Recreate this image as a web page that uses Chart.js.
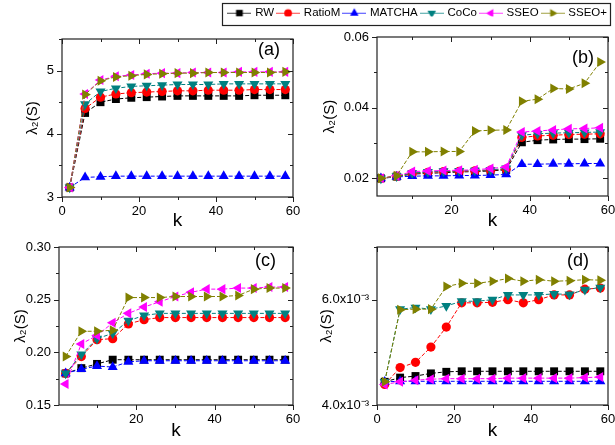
<!DOCTYPE html>
<html>
<head>
<meta charset="utf-8">
<script src="https://cdn.jsdelivr.net/npm/chart.js@4/dist/chart.umd.min.js"></script>
<style>
  body { margin: 0; background: #fff; width: 615px; height: 445px; position: relative; overflow: hidden; }
  canvas { position: absolute; }
</style>
</head>
<body>
<canvas id="legend"></canvas>
<canvas id="pa"></canvas>
<canvas id="pb"></canvas>
<canvas id="pc"></canvas>
<canvas id="pd"></canvas>
<script>
// shared x positions (k) and series names
const kValues = [2, 6, 10, 14, 18, 22, 26, 30, 34, 38, 42, 46, 50, 54, 58];
const seriesNames = ['RW', 'RatioM', 'MATCHA', 'CoCo', 'SSEO', 'SSEO+'];

// (a)
const aRW     = [3.15, 4.33, 4.50, 4.55, 4.57, 4.58, 4.59, 4.60, 4.60, 4.60, 4.60, 4.60, 4.61, 4.61, 4.61];
const aRatioM = [3.15, 4.40, 4.58, 4.63, 4.65, 4.66, 4.67, 4.68, 4.68, 4.69, 4.69, 4.69, 4.70, 4.70, 4.70];
const aMATCHA = [3.15, 3.31, 3.32, 3.33, 3.33, 3.33, 3.33, 3.33, 3.33, 3.33, 3.33, 3.33, 3.33, 3.33, 3.33];
const aCoCo   = [3.15, 4.47, 4.67, 4.72, 4.75, 4.76, 4.77, 4.78, 4.78, 4.78, 4.79, 4.79, 4.79, 4.79, 4.79];
const aSSEO   = [3.15, 4.63, 4.85, 4.91, 4.93, 4.95, 4.96, 4.96, 4.97, 4.97, 4.97, 4.98, 4.98, 4.98, 4.98];
const aSSEOp  = [3.15, 4.62, 4.84, 4.90, 4.92, 4.94, 4.95, 4.96, 4.96, 4.97, 4.97, 4.97, 4.97, 4.97, 4.98];

// (b)
const bRW     = [0.0200, 0.0205, 0.0212, 0.0214, 0.0216, 0.0218, 0.0219, 0.0221, 0.0224, 0.0302, 0.0308, 0.0310, 0.0311, 0.0311, 0.0312];
const bRatioM = [0.0200, 0.0206, 0.0214, 0.0217, 0.0219, 0.0220, 0.0221, 0.0223, 0.0226, 0.0316, 0.0320, 0.0322, 0.0324, 0.0325, 0.0326];
const bMATCHA = [0.0200, 0.0204, 0.0206, 0.0207, 0.0207, 0.0208, 0.0208, 0.0209, 0.0211, 0.0240, 0.0240, 0.0241, 0.0241, 0.0242, 0.0242];
const bCoCo   = [0.0200, 0.0206, 0.0215, 0.0218, 0.0220, 0.0221, 0.0222, 0.0224, 0.0228, 0.0322, 0.0326, 0.0328, 0.0329, 0.0330, 0.0331];
const bSSEO   = [0.0200, 0.0207, 0.0219, 0.0221, 0.0222, 0.0223, 0.0224, 0.0228, 0.0232, 0.0331, 0.0334, 0.0337, 0.0340, 0.0341, 0.0343];
const bSSEOp  = [0.0200, 0.0207, 0.0275, 0.0275, 0.0276, 0.0276, 0.0334, 0.0336, 0.0337, 0.0418, 0.0424, 0.0454, 0.0453, 0.0469, 0.0529];

// (c)
const cRW     = [0.180, 0.185, 0.189, 0.193, 0.193, 0.193, 0.193, 0.193, 0.193, 0.193, 0.193, 0.193, 0.193, 0.193, 0.193];
const cRatioM = [0.180, 0.196, 0.212, 0.213, 0.227, 0.231, 0.233, 0.233, 0.233, 0.233, 0.233, 0.233, 0.233, 0.233, 0.233];
const cMATCHA = [0.180, 0.184, 0.187, 0.186, 0.191, 0.192, 0.192, 0.192, 0.192, 0.192, 0.192, 0.192, 0.192, 0.192, 0.192];
const cCoCo   = [0.180, 0.198, 0.213, 0.218, 0.230, 0.235, 0.237, 0.237, 0.237, 0.237, 0.237, 0.237, 0.237, 0.237, 0.237];
const cSSEO   = [0.170, 0.208, 0.216, 0.228, 0.237, 0.243, 0.248, 0.253, 0.257, 0.260, 0.260, 0.261, 0.261, 0.262, 0.262];
const cSSEOp  = [0.196, 0.220, 0.220, 0.221, 0.252, 0.252, 0.252, 0.253, 0.253, 0.253, 0.253, 0.254, 0.260, 0.261, 0.261];

// (d)
const dRW     = [0.00444, 0.00452, 0.00455, 0.00460, 0.00463, 0.00464, 0.00464, 0.00464, 0.00464, 0.00464, 0.00464, 0.00464, 0.00464, 0.00464, 0.00464];
const dRatioM = [0.00439, 0.00471, 0.00481, 0.00510, 0.00548, 0.00594, 0.00594, 0.00595, 0.00600, 0.00594, 0.00600, 0.00609, 0.00609, 0.00620, 0.00622];
const dMATCHA = [0.00444, 0.00445, 0.00445, 0.00445, 0.00445, 0.00445, 0.00445, 0.00445, 0.00445, 0.00445, 0.00445, 0.00445, 0.00445, 0.00445, 0.00445];
const dCoCo   = [0.00444, 0.00582, 0.00585, 0.00582, 0.00588, 0.00597, 0.00597, 0.00600, 0.00609, 0.00609, 0.00609, 0.00611, 0.00610, 0.00619, 0.00623];
const dSSEO   = [0.00439, 0.00444, 0.00447, 0.00449, 0.00450, 0.00450, 0.00450, 0.00450, 0.00451, 0.00451, 0.00451, 0.00451, 0.00451, 0.00452, 0.00453];
const dSSEOp  = [0.00444, 0.00581, 0.00582, 0.00582, 0.00625, 0.00631, 0.00631, 0.00635, 0.00640, 0.00635, 0.00638, 0.00635, 0.00636, 0.00638, 0.00637];

// axis ticks
const xMajor = [0, 20, 40, 60];
const xMinor = [10, 30, 50];
const aYMajor = [3, 4, 5],          aYMinor = [3.5, 4.5, 5.5],        aYLabels = ['3', '4', '5'];
const bYMajor = [0.02, 0.04, 0.06], bYMinor = [0.03, 0.05],           bYLabels = ['0.02', '0.04', '0.06'];
const cYMajor = [0.15, 0.20, 0.25, 0.30], cYMinor = [0.175, 0.225, 0.275], cYLabels = ['0.15', '0.20', '0.25', '0.30'];
const dYMajor = [0.004, 0.006],     dYMinor = [0.005, 0.007],         dYLabels = ['4.0x10\u207B\u00B3', '6.0x10\u207B\u00B3'];

// styling
const FONT = '"Liberation Sans", Arial, sans-serif';
const colors = ['#000000', '#ff0000', '#0000ff', '#008080', '#ff00ff', '#808000'];
const markers = ['rect', 'circle', 'triangle', 'triangle', 'triangle', 'triangle'];
const rotations = [0, 0, 0, 180, 270, 90];
const radii = [5.6, 4.6, 5.8, 5.8, 5.8, 5.8];

const framePlugin = {
  id: 'frame',
  afterDraw(chart, args, opts) {
    const { ctx, chartArea: a, scales: { x, y } } = chart;
    ctx.save();
    ctx.strokeStyle = '#222';
    ctx.lineWidth = 1.2;
    ctx.strokeRect(a.left, a.top, a.right - a.left, a.bottom - a.top);
    ctx.lineWidth = 1;
    ctx.beginPath();
    const xt = (vals, len) => vals.forEach(v => {
      if (v < x.min || v > x.max) return;
      const px = Math.round(x.getPixelForValue(v)) + 0.5;
      ctx.moveTo(px, a.bottom); ctx.lineTo(px, a.bottom + len);
      ctx.moveTo(px, a.top); ctx.lineTo(px, a.top + len);
    });
    const yt = (vals, len) => vals.forEach(v => {
      if (v < y.min || v > y.max) return;
      const py = Math.round(y.getPixelForValue(v)) + 0.5;
      ctx.moveTo(a.left, py); ctx.lineTo(a.left - len, py);
      ctx.moveTo(a.right, py); ctx.lineTo(a.right - len, py);
    });
    xt(xMajor, 5); xt(xMinor, 3);
    yt(opts.yMajor, 5); yt(opts.yMinor, 3);
    ctx.stroke();
    ctx.fillStyle = '#000';
    ctx.font = '18px ' + FONT;
    ctx.textAlign = 'right';
    ctx.textBaseline = 'middle';
    ctx.fillText(opts.tag, a.right - opts.tagDx, a.top + opts.tagDy);
    ctx.restore();
  }
};

function makePanel(id, box, area, p) {
  const cv = document.getElementById(id);
  cv.width = box.w; cv.height = box.h;
  cv.style.left = box.x + 'px'; cv.style.top = box.y + 'px';
  new Chart(cv, {
    type: 'line',
    data: {
      datasets: p.series.map((vals, i) => ({
        label: seriesNames[i],
        data: kValues.map((k, j) => ({ x: k, y: vals[j] })),
        borderColor: colors[i],
        backgroundColor: colors[i],
        borderWidth: 1,
        borderDash: [4, 2],
        pointStyle: markers[i],
        rotation: rotations[i],
        pointRadius: radii[i],
        pointBorderWidth: 0,
        order: 5 - i
      }))
    },
    options: {
      responsive: false,
      animation: false,
      events: [],
      layout: { padding: { left: 0, top: area.top - box.y, right: box.x + box.w - area.right, bottom: 0 } },
      plugins: {
        legend: { display: false },
        tooltip: { enabled: false },
        frame: { yMajor: p.yMajor, yMinor: p.yMinor, tag: p.tag, tagDx: p.tagDx, tagDy: p.tagDy }
      },
      scales: {
        x: {
          type: 'linear', min: p.xMin, max: 60,
          grid: { display: false, drawTicks: false },
          border: { display: false },
          afterBuildTicks: s => { s.ticks = p.xLabels.map(v => ({ value: v })); },
          afterFit: s => { s.height = box.y + box.h - area.bottom; s.paddingLeft = 0; s.paddingRight = 0; },
          ticks: { autoSkip: false, maxRotation: 0, padding: 7, color: '#000', font: { family: FONT, size: 13 },
                   callback: v => String(v) },
          title: { display: true, text: 'k', color: '#000', font: { family: FONT, size: 19 }, padding: { top: 0, bottom: p.kPad } }
        },
        y: {
          type: 'linear', min: p.yMin, max: p.yMax,
          grid: { display: false, drawTicks: false },
          border: { display: false },
          afterBuildTicks: s => { s.ticks = p.yMajor.map(v => ({ value: v })); },
          afterFit: s => { s.width = area.left - box.x; s.paddingTop = 0; s.paddingBottom = 0; },
          ticks: { autoSkip: false, padding: 8, color: '#000', font: { family: FONT, size: 13 },
                   callback: (v, i) => p.yLabels[i] },
          title: { display: true, text: '\u03BB\u2082(S)', color: '#000', font: { family: FONT, size: 15 }, padding: { top: p.titlePad, bottom: 0 } }
        }
      }
    },
    plugins: [framePlugin]
  });
}

makePanel('pa', { x: 0, y: 28, w: 305, h: 205 }, { left: 62, top: 39, right: 293, bottom: 197 }, {
  series: [aRW, aRatioM, aMATCHA, aCoCo, aSSEO, aSSEOp],
  xMin: 0, xLabels: [0, 20, 40, 60], yMin: 3, yMax: 5.5,
  yMajor: aYMajor, yMinor: aYMinor, yLabels: aYLabels,
  tag: '(a)', tagDx: 13, tagDy: 11, titlePad: 24, kPad: 1
});
makePanel('pb', { x: 305, y: 28, w: 310, h: 205 }, { left: 377, top: 37, right: 608, bottom: 196 }, {
  series: [bRW, bRatioM, bMATCHA, bCoCo, bSSEO, bSSEOp],
  xMin: 1, xLabels: [20, 40, 60], yMin: 0.015, yMax: 0.06,
  yMajor: bYMajor, yMinor: bYMinor, yLabels: bYLabels,
  tag: '(b)', tagDx: 14, tagDy: 21, titlePad: 16, kPad: 1
});
makePanel('pc', { x: 0, y: 236, w: 305, h: 209 }, { left: 59, top: 247, right: 293, bottom: 405 }, {
  series: [cRW, cRatioM, cMATCHA, cCoCo, cSSEO, cSSEOp],
  xMin: 0.3, xLabels: [20, 40, 60], yMin: 0.15, yMax: 0.30,
  yMajor: cYMajor, yMinor: cYMinor, yLabels: cYLabels,
  tag: '(c)', tagDx: 17, tagDy: 14, titlePad: 12, kPad: 3
});
makePanel('pd', { x: 305, y: 236, w: 310, h: 209 }, { left: 377, top: 247, right: 608, bottom: 405 }, {
  series: [dRW, dRatioM, dMATCHA, dCoCo, dSSEO, dSSEOp],
  xMin: 0, xLabels: [0, 20, 40, 60], yMin: 0.004, yMax: 0.007,
  yMajor: dYMajor, yMinor: dYMinor, yLabels: dYLabels,
  tag: '(d)', tagDx: 19, tagDy: 14, titlePad: 13, kPad: 3
});

// legend: line + marker icons
function drawMarker(g, style, rot, r, cx, cy) {
  g.save();
  g.translate(cx, cy);
  g.rotate(rot * Math.PI / 180);
  g.beginPath();
  if (style === 'rect') {
    const s = r * Math.SQRT1_2;
    g.rect(-s, -s, 2 * s, 2 * s);
  } else if (style === 'circle') {
    g.arc(0, 0, r, 0, Math.PI * 2);
  } else {
    g.moveTo(0, -r);
    g.lineTo(r * Math.sin(Math.PI * 2 / 3), -r * Math.cos(Math.PI * 2 / 3));
    g.lineTo(-r * Math.sin(Math.PI * 2 / 3), -r * Math.cos(Math.PI * 2 / 3));
    g.closePath();
  }
  g.fill();
  g.restore();
}

const icons = seriesNames.map((n, i) => {
  const c = document.createElement('canvas');
  c.width = 24; c.height = 12;
  const g = c.getContext('2d');
  g.strokeStyle = colors[i];
  g.globalAlpha = 0.75;
  g.lineWidth = 1;
  g.beginPath(); g.moveTo(0, 6.5); g.lineTo(24, 6.5); g.stroke();
  g.globalAlpha = 1;
  g.fillStyle = colors[i];
  drawMarker(g, markers[i], rotations[i], radii[i] * 0.85, 12, 6.5);
  return c;
});

const legendFrame = {
  id: 'legendFrame',
  afterDraw(chart) {
    const ctx = chart.ctx;
    ctx.save();
    ctx.strokeStyle = '#222';
    ctx.lineWidth = 1.2;
    ctx.strokeRect(222.5, 3.5, 388, 22);
    ctx.restore();
  }
};

const lg = document.getElementById('legend');
lg.width = 615; lg.height = 30;
lg.style.left = '0px'; lg.style.top = '0px';
new Chart(lg, {
  type: 'line',
  data: { datasets: seriesNames.map((n, i) => ({ label: n, data: [], borderColor: colors[i], backgroundColor: colors[i] })) },
  options: {
    responsive: false,
    animation: false,
    events: [],
    layout: { padding: { left: 200, right: 4, top: 3 } },
    scales: { x: { display: false }, y: { display: false } },
    plugins: {
      tooltip: { enabled: false },
      legend: {
        display: true, position: 'top', align: 'end',
        labels: {
          usePointStyle: true, pointStyleWidth: 20, boxHeight: 11, padding: 4,
          color: '#000', font: { family: FONT, size: 11.5 },
          generateLabels: chart => chart.data.datasets.map((d, i) => ({
            text: d.label, pointStyle: icons[i], fillStyle: colors[i], strokeStyle: colors[i],
            lineWidth: 0, hidden: false, datasetIndex: i
          }))
        }
      }
    }
  },
  plugins: [legendFrame]
});
</script>
</body>
</html>
